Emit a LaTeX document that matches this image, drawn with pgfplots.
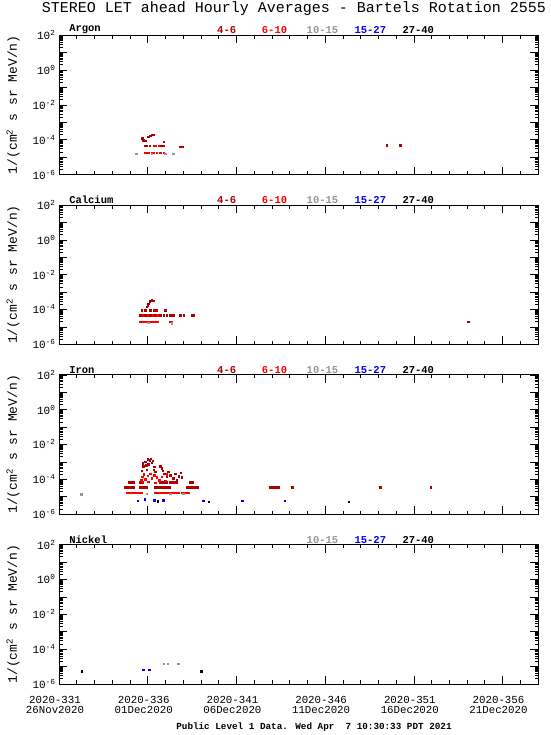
\documentclass[border=0pt]{standalone}
\usepackage{pgfplots}
\pgfplotsset{compat=1.18}
\usepackage{fontspec}
\setmainfont{Liberation Mono}
\definecolor{cA}{RGB}{175,0,0}
\definecolor{cB}{RGB}{255,0,0}
\definecolor{cC}{RGB}{150,150,150}
\definecolor{cD}{RGB}{0,0,255}
\definecolor{cE}{RGB}{0,0,0}
\pgfplotsset{
 every axis/.append style={
   width=479pt, height=139.3pt, scale only axis,
   xmin=331, xmax=358, ymin=1e-6, ymax=1e2,
   xtick={331,336,341,346,351,356},
   minor xtick={331,332,333,334,335,336,337,338,339,340,341,342,343,344,345,346,347,348,349,350,351,352,353,354,355,356,357,358},
   ytick={1e-6,1e-5,1e-4,1e-3,1e-2,1e-1,1,1e1,1e2},
   yticklabels={10\textsuperscript{-6},,10\textsuperscript{-4},,10\textsuperscript{-2},,10\textsuperscript{0},,10\textsuperscript{2}},
   minor ytick={2e-6,3e-6,4e-6,5e-6,6e-6,7e-6,8e-6,9e-6,2e-5,3e-5,4e-5,5e-5,6e-5,7e-5,8e-5,9e-5,2e-4,3e-4,4e-4,5e-4,6e-4,7e-4,8e-4,9e-4,2e-3,3e-3,4e-3,5e-3,6e-3,7e-3,8e-3,9e-3,2e-2,3e-2,4e-2,5e-2,6e-2,7e-2,8e-2,9e-2,0.2,0.3,0.4,0.5,0.6,0.7,0.8,0.9,2,3,4,5,6,7,8,9,20,30,40,50,60,70,80,90},
   major tick length=8pt, minor tick length=3.5pt,
   tick style={black, line width=0.6pt},
   axis line style={line width=0.8pt},
   clip=false,
   yticklabel style={font=\fontsize{11}{11}\selectfont},
 },
 every axis plot/.append style={only marks, mark=square*, mark size=0.7pt, mark options={line width=0.2pt}},
}
\tikzset{leg/.style={font=\fontsize{10.5}{10.5}\selectfont\bfseries, anchor=south, inner sep=1pt},
  ylab/.style={rotate=90, anchor=center, font=\fontsize{13}{13}\selectfont}}
\newcommand{\legfive}{%
  \node[leg, text=cA] at (axis description cs:0.35,1) {4-6};
  \node[leg, text=cB] at (axis description cs:0.45,1) {6-10};
  \node[leg, text=cC] at (axis description cs:0.55,1) {10-15};
  \node[leg, text=cD] at (axis description cs:0.65,1) {15-27};
  \node[leg, text=cE] at (axis description cs:0.75,1) {27-40};}
\newcommand{\ylab}{\node[ylab] at (axis description cs:-0.096,0.5) {1/(cm\textsuperscript{2} s sr MeV/n)};}
\begin{document}
\begin{tikzpicture}
\path[use as bounding box] (0pt,0pt) rectangle (550pt,-735pt);
\node[font=\fontsize{15}{15}\selectfont] at (294pt,-9pt) {STEREO LET ahead Hourly Averages - Bartels Rotation 2555};

% ---------------- Argon
\begin{semilogyaxis}[at={(59pt,-35.2pt)}, anchor=north west, xticklabels={}]
\addplot[cA] coordinates {(335.68,1.2e-4)(335.75,9.5e-5)(335.85,8.7e-5)(336.03,1.5e-4)(336.13,1.7e-4)(336.23,1.9e-4)(336.32,1.95e-4)(336.88,7.6e-5)
 (335.85,4.4e-5)(335.94,4.4e-5)(336.09,4.4e-5)(336.32,4.4e-5)(336.68,4.4e-5)(336.79,4.4e-5)(336.88,4.4e-5)
 (337.82,4.0e-5)(337.93,4.0e-5)(349.46,4.9e-5)(350.22,4.9e-5)};
\addplot[cB] coordinates {(336.41,4.4e-5)(336.60,4.4e-5)
 (335.85,1.86e-5)(335.94,1.86e-5)(336.03,1.86e-5)(336.23,1.86e-5)(336.32,1.86e-5)(336.51,1.86e-5)(336.69,1.86e-5)(336.88,1.86e-5)};
\addplot[cC] coordinates {(335.34,1.55e-5)(336.23,1.55e-5)(336.98,1.55e-5)(337.44,1.55e-5)};
\node[leg, anchor=south west] at (axis description cs:0.019,1) {Argon};
\legfive
\ylab
\end{semilogyaxis}

% ---------------- Calcium
\begin{semilogyaxis}[at={(59pt,-205.0pt)}, anchor=north west, xticklabels={}]
\addplot[cA] coordinates {(335.94,1.45e-4)(336.0,1.82e-4)(336.03,2.2e-4)(336.09,2.8e-4)(336.13,3.2e-4)(336.23,3.5e-4)(336.32,3.2e-4)
 (335.66,9.3e-5)(335.85,9.3e-5)(336.13,9.3e-5)(336.32,9.3e-5)(336.47,9.3e-5)(336.98,9.3e-5)
 (335.57,4.8e-5)(335.85,4.8e-5)(336.13,4.8e-5)(336.41,4.8e-5)(336.69,4.8e-5)(336.88,4.8e-5)(337.07,4.8e-5)(337.26,4.8e-5)(337.44,4.8e-5)(337.82,4.8e-5)(338.01,4.8e-5)(338.48,4.8e-5)(338.57,4.8e-5)
 (354.06,2.0e-5)};
\addplot[cB] coordinates {(335.72,4.8e-5)(335.98,4.8e-5)(336.28,4.8e-5)(336.54,4.8e-5)
 (335.57,2.0e-5)(335.72,2.0e-5)(335.85,2.0e-5)(335.98,2.0e-5)(336.13,2.0e-5)(336.28,2.0e-5)(336.41,2.0e-5)(336.54,2.0e-5)(337.26,2.0e-5)(337.35,2.0e-5)};
\addplot[cC] coordinates {(336.03,1.74e-5)(337.35,1.62e-5)};
\node[leg, anchor=south west] at (axis description cs:0.019,1) {Calcium};
\legfive
\ylab
\end{semilogyaxis}

% ---------------- Iron
\begin{semilogyaxis}[at={(59pt,-374.8pt)}, anchor=north west, xticklabels={}]
\addplot[cA] coordinates {
 (334.72,3.6e-5)(334.84,3.6e-5)(334.96,3.6e-5)(335.08,3.6e-5)(335.17,3.6e-5)
 (335.57,3.6e-5)(335.69,3.6e-5)(335.81,3.6e-5)(335.93,3.6e-5)
 (336.41,3.6e-5)(336.53,3.6e-5)(336.65,3.6e-5)(336.77,3.6e-5)(336.89,3.6e-5)(337.01,3.6e-5)(337.13,3.6e-5)(337.25,3.6e-5)
 (338.22,3.6e-5)(338.34,3.6e-5)(338.46,3.6e-5)(338.58,3.6e-5)(338.70,3.6e-5)(338.82,3.6e-5)
 (342.89,3.6e-5)(343.01,3.6e-5)(343.13,3.6e-5)(343.25,3.6e-5)(343.34,3.6e-5)
 (344.15,3.6e-5)(349.09,3.6e-5)(351.95,3.6e-5)
 (334.95,6.9e-5)(335.07,6.9e-5)(335.17,6.9e-5)(335.57,6.9e-5)(335.69,6.9e-5)
 (336.69,6.9e-5)(336.81,6.9e-5)(336.93,6.9e-5)(337.05,6.9e-5)
 (337.26,6.9e-5)(337.38,6.9e-5)(337.50,6.9e-5)(337.62,6.9e-5)
 (338.38,6.9e-5)(338.50,6.9e-5)
 (335.72,8.3e-4)(335.85,1.02e-3)(335.98,1.45e-3)(336.09,1.29e-3)(336.17,1.58e-3)(336.28,1.17e-3)(335.75,5.8e-4)(335.90,6.6e-4)(336.03,7.6e-4)(336.23,9.1e-4)(336.35,5.2e-4)(335.66,3.1e-4)(335.94,3.7e-4)(336.41,2.7e-4)(336.69,5.8e-4)(336.79,4.3e-4)(336.84,3.1e-4)(336.92,2.2e-4)(337.16,2.7e-4)(337.26,1.78e-4)(337.54,2.2e-4)(337.73,1.55e-4)(337.86,2.4e-4)(337.92,1.32e-4)(337.07,1.41e-4)(337.44,1.17e-4)(337.63,9.1e-5)(338.48,7.2e-5)(336.32,3.7e-4)};
\addplot[cB] coordinates {
 (334.82,1.78e-5)(334.94,1.78e-5)(335.06,1.78e-5)(335.18,1.78e-5)(335.30,1.78e-5)(335.42,1.78e-5)(335.54,1.78e-5)(335.66,1.78e-5)
 (336.41,1.78e-5)(336.53,1.78e-5)(336.65,1.78e-5)(336.77,1.78e-5)(336.89,1.78e-5)(337.01,1.78e-5)(337.13,1.78e-5)(337.25,1.78e-5)(337.37,1.78e-5)(337.49,1.78e-5)(337.61,1.78e-5)(337.73,1.78e-5)
 (337.92,1.78e-5)(338.04,1.78e-5)(338.16,1.78e-5)(338.28,1.78e-5)
 (335.62,9.1e-5)(335.68,1.41e-4)(335.77,2.0e-4)(335.86,1.0e-4)(335.99,1.62e-4)(336.13,2.2e-4)(336.23,1.17e-4)(336.35,1.78e-4)(336.50,1.32e-4)(336.65,9.1e-5)(336.79,1.41e-4)(336.97,8.3e-5)(337.07,2.0e-4)(335.72,7.2e-5)(336.03,7.2e-5)(336.41,6.3e-5)};
\addplot[cC] coordinates {(332.24,1.41e-5)(335.94,1.55e-5)(337.26,1.55e-5)(338.0,1.55e-5)};
\addplot[cD] coordinates {(335.44,5.9e-6)(335.81,7.1e-6)(336.37,6.5e-6)(336.86,6.5e-6)(339.13,5.9e-6)(341.32,5.9e-6)(343.70,5.9e-6)};
\addplot[cE] coordinates {(336.56,5.6e-6)(339.42,5.4e-6)(347.31,5.1e-6)};
\node[leg, anchor=south west] at (axis description cs:0.019,1) {Iron};
\legfive
\ylab
\end{semilogyaxis}

% ---------------- Nickel
\begin{semilogyaxis}[at={(59pt,-544.6pt)}, anchor=north west,
  xticklabels={2020-331\\26Nov2020,2020-336\\01Dec2020,2020-341\\06Dec2020,2020-346\\11Dec2020,2020-351\\16Dec2020,2020-356\\21Dec2020},
  xticklabel style={align=center, font=\fontsize{10.75}{10}\selectfont, yshift=-9pt, xshift=-4pt}]
\addplot[cC] coordinates {(336.88,1.51e-5)(337.13,1.51e-5)(337.72,1.51e-5)};
\addplot[cD] coordinates {(335.75,6.9e-6)(336.07,6.9e-6)};
\addplot[cE] coordinates {(332.28,5.5e-6)(339.0,5.5e-6)};
\node[leg, anchor=south west] at (axis description cs:0.019,1) {Nickel};
\node[leg, text=cC] at (axis description cs:0.55,1) {10-15};
\node[leg, text=cD] at (axis description cs:0.65,1) {15-27};
\node[leg, text=cE] at (axis description cs:0.75,1) {27-40};
\ylab
\end{semilogyaxis}

\node[font=\fontsize{9.3}{9.3}\selectfont\bfseries] at (314pt,-727pt) {Public Level 1 Data. Wed Apr\ \ 7 10:30:33 PDT 2021};
\end{tikzpicture}
\end{document}
